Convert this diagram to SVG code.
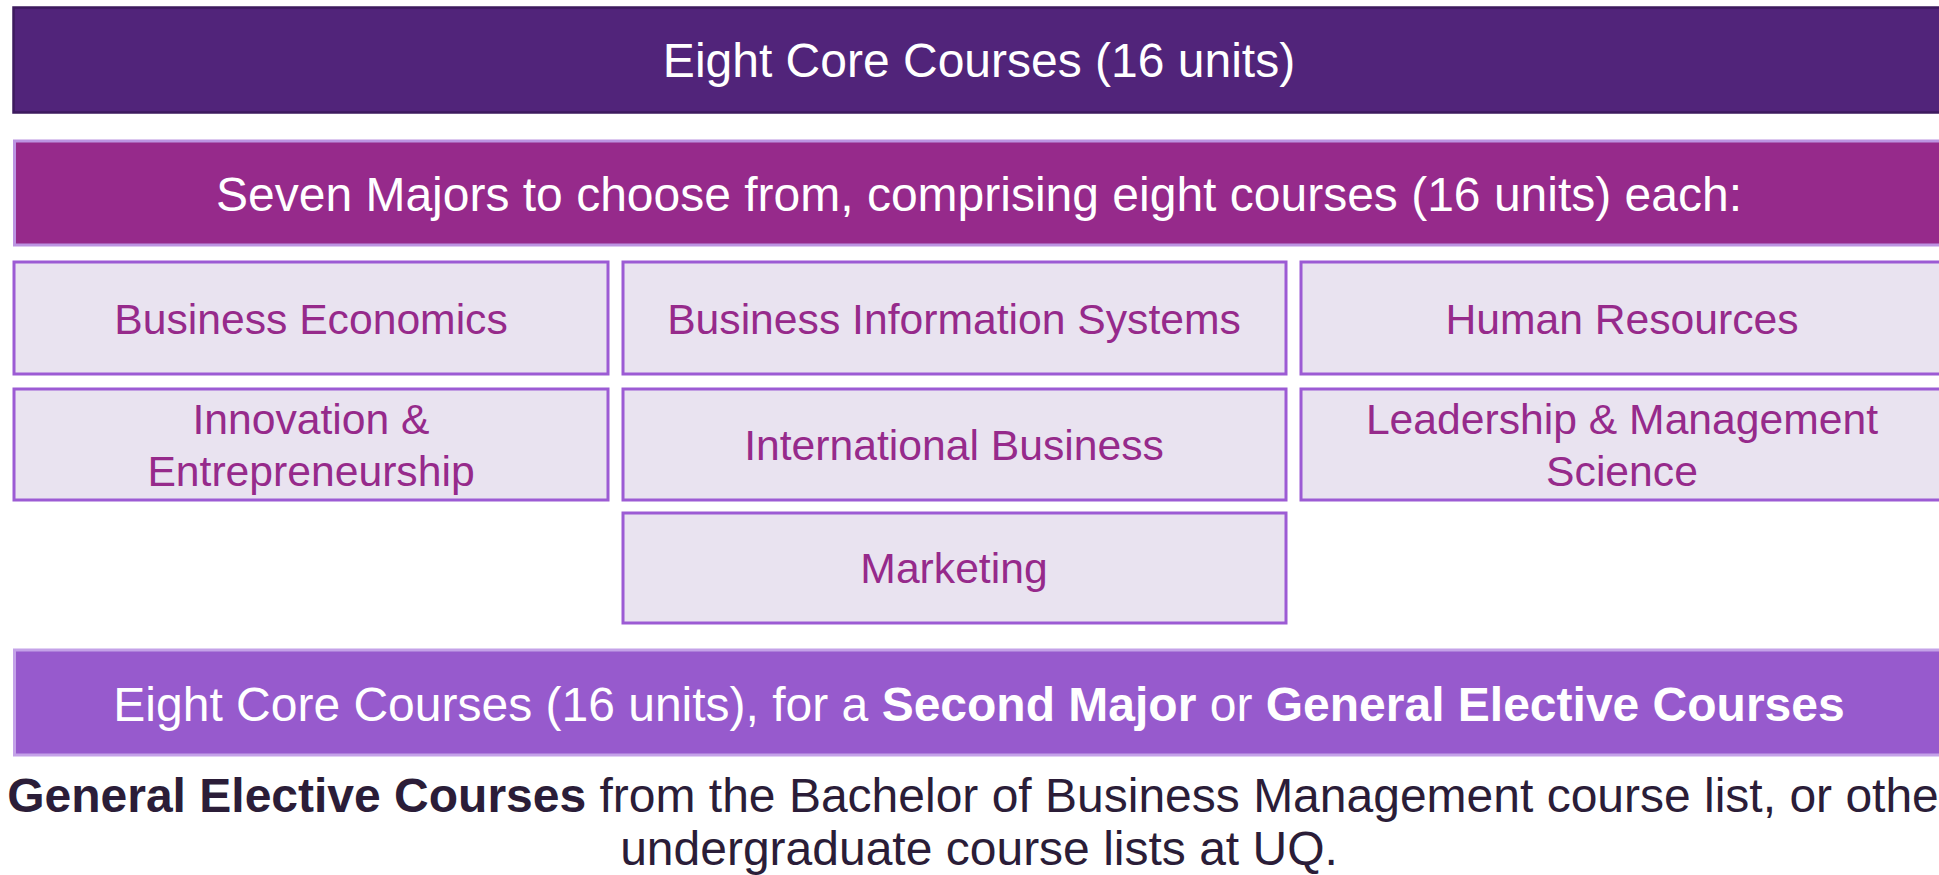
<svg xmlns="http://www.w3.org/2000/svg" width="1939" height="875" viewBox="0 0 1939 875">
<style>
text{font-family:"Liberation Sans",Arial,sans-serif;text-anchor:middle}
.bar-top{fill:#51247A;stroke:#3D1A5E;stroke-width:2.5}
.bar-maj{fill:#962A8B;stroke:#BC94E2;stroke-width:3}
.bar-bot{fill:#975ACD;stroke:#C4A2E8;stroke-width:3}
.box{fill:#E9E3F0;stroke:#9C5BD4;stroke-width:3}
.w{fill:#FFFFFF;font-size:48px}
.m{fill:#962A8B;font-size:42.67px}
.d{fill:#2B1D38;font-size:48px}
.b{font-weight:bold}
</style>
<rect width="1939" height="875" fill="#FFFFFF"/>
<g id="core">
<rect class="bar-top" x="13.5" y="7.5" width="1940" height="105"/>
<text class="w" x="979" y="77">Eight Core Courses (16 units)</text>
</g>
<g id="majors">
<rect class="bar-maj" x="14.5" y="141" width="1940" height="104"/>
<text class="w" x="979" y="211">Seven Majors to choose from, comprising eight courses (16 units) each:</text>
</g>
<g id="business-economics">
<rect class="box" x="14" y="262" width="594" height="112"/>
<text class="m" x="311" y="333.5">Business Economics</text>
</g>
<g id="business-information-systems">
<rect class="box" x="623" y="262" width="663" height="112"/>
<text class="m" x="954" y="333.5">Business Information Systems</text>
</g>
<g id="human-resources">
<rect class="box" x="1301" y="262" width="650" height="112"/>
<text class="m" x="1622" y="333.5">Human Resources</text>
</g>
<g id="innovation">
<rect class="box" x="14" y="389" width="594" height="111"/>
<text class="m" x="311" y="434">Innovation &amp;</text>
<text class="m" x="311" y="485.5">Entrepreneurship</text>
</g>
<g id="international-business">
<rect class="box" x="623" y="389" width="663" height="111"/>
<text class="m" x="954" y="460">International Business</text>
</g>
<g id="leadership">
<rect class="box" x="1301" y="389" width="650" height="111"/>
<text class="m" x="1622" y="434">Leadership &amp; Management</text>
<text class="m" x="1622" y="485.5">Science</text>
</g>
<g id="marketing">
<rect class="box" x="623" y="513" width="663" height="110"/>
<text class="m" x="954" y="583">Marketing</text>
</g>
<g id="second-major">
<rect class="bar-bot" x="14.5" y="650" width="1940" height="105"/>
<text class="w" x="979" y="720.5">Eight Core Courses (16 units), for a <tspan class="b">Second Major</tspan> or <tspan class="b">General Elective Courses</tspan></text>
</g>
<g id="electives-note">
<text class="d" x="981" y="812"><tspan class="b">General Elective Courses</tspan> from the Bachelor of Business Management course list, or other</text>
<text class="d" x="979" y="865">undergraduate course lists at UQ.</text>
</g>
<g id="connectors"></g>
</svg>
